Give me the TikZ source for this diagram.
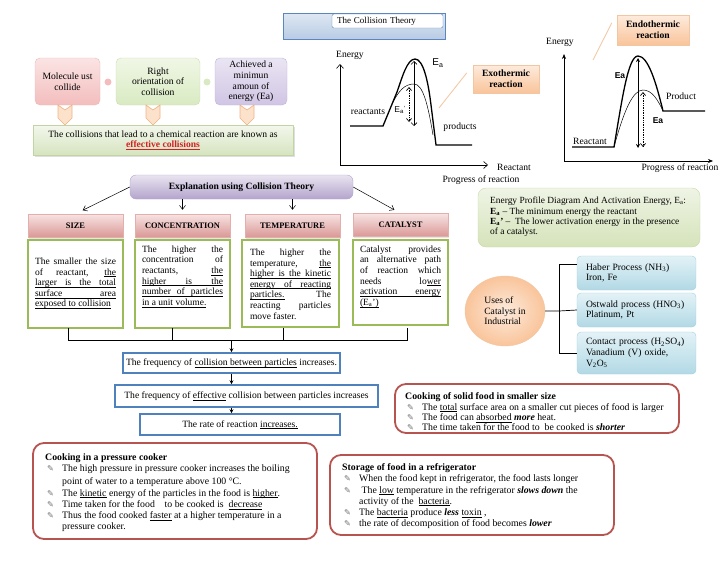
\documentclass[tikz,border=0pt]{standalone}
\usepackage{fontspec}
\setmainfont{Liberation Serif}
\newfontfamily\arialf{Liberation Sans}
\newfontfamily\symf{DejaVu Sans}
\usetikzlibrary{arrows.meta,shapes.geometric,shadows,calc}
\definecolor{pkT}{HTML}{FBE4E4}
\definecolor{pkB}{HTML}{F3BDBD}
\definecolor{pkD}{HTML}{EBB9B9}
\definecolor{grT}{HTML}{F0F7E6}
\definecolor{grB}{HTML}{D9EAC2}
\definecolor{grD}{HTML}{CADDAE}
\definecolor{puT}{HTML}{EAE5F3}
\definecolor{puB}{HTML}{D0C5E4}
\definecolor{puD}{HTML}{C0B3DA}
\definecolor{chF}{HTML}{FCE2CB}
\definecolor{chD}{HTML}{EDB287}
\definecolor{efT}{HTML}{F3F7EC}
\definecolor{efB}{HTML}{D6E4C0}
\definecolor{efD}{HTML}{C2D4A3}
\definecolor{efred}{HTML}{D42020}
\definecolor{blT}{HTML}{DFE8F3}
\definecolor{blB}{HTML}{B8CCE4}
\definecolor{blD}{HTML}{5B86C0}
\definecolor{orT}{HTML}{FDEBDD}
\definecolor{orB}{HTML}{F9C49A}
\definecolor{orD}{HTML}{F2C6A2}
\definecolor{callc}{HTML}{F3C9A6}
\definecolor{exT}{HTML}{E9E4F0}
\definecolor{exB}{HTML}{B3A4CC}
\definecolor{hdT}{HTML}{F7E4E3}
\definecolor{hdB}{HTML}{DA9896}
\definecolor{hdD}{HTML}{E3AEAC}
\definecolor{cbD}{HTML}{9BBB59}
\definecolor{fbD}{HTML}{4F81BD}
\definecolor{rbD}{HTML}{B85450}
\definecolor{pgT}{HTML}{EFF4E5}
\definecolor{pgB}{HTML}{D5E3BA}
\definecolor{pgD}{HTML}{C8D9A6}
\definecolor{ubT}{HTML}{E3F2F7}
\definecolor{ubB}{HTML}{B2D9E5}
\definecolor{ubD}{HTML}{A3D0DE}
\definecolor{bulc}{HTML}{707070}
\newcommand\ft{\fontsize{9.6}{10.6}\selectfont}
\newcommand\bul{{\symf\fontsize{8.2}{8}\selectfont\textcolor{bulc}{✎}}}
\newcommand\bla{\makebox[17pt][l]{\hspace{2pt}\bul}}
\newcommand\ind{\hspace*{17pt}}
\newcommand\bi[1]{\textbf{\textit{#1}}}
\newcommand\ul[1]{\setbox0\hbox{#1}\rlap{\rule[-1.7pt]{\wd0}{0.45pt}}\box0\relax}
\newcommand\us{\leaders\hrule height -1.25pt depth 1.7pt\hskip\fontdimen2\font plus\fontdimen3\font minus\fontdimen4\font\relax}
\begin{document}
\begin{tikzpicture}[x=1pt,y=-1pt,font=\ft,
  tbox/.style={rounded corners=5pt,inner sep=1pt,align=center,minimum height=47pt},
  chev/.style={fill=chF,draw=chD,line width=0.6pt},
  callout/.style={draw=callc,line width=0.9pt},
  orbox/.style={top color=orT,bottom color=orB,draw=orD,align=center,inner sep=0pt,drop shadow={opacity=0.25,shadow xshift=1pt,shadow yshift=-1pt},font=\ft\bfseries},
  hdr/.style={top color=hdT,bottom color=hdB,draw=hdD,minimum width=95pt,minimum height=23pt,inner sep=0pt,font=\fontsize{8.4}{10}\selectfont\bfseries,drop shadow={opacity=0.2,shadow xshift=1pt,shadow yshift=-1.5pt}},
  cbox/.style={draw=cbD,line width=1.6pt,fill=white,inner sep=0pt,minimum width=95pt},
  ctext/.style={text width=81pt,align=justify,inner sep=0pt,font=\fontsize{9.5}{10.6}\selectfont},
  fbox/.style={draw=fbD,line width=1.6pt,fill=white,inner sep=0pt},
  rbox/.style={draw=rbD,line width=1.8pt,rounded corners=11pt,minimum width=284pt,inner sep=0pt},
  rtext/.style={align=left,inner sep=0pt,anchor=north west,font=\fontsize{9.8}{11.2}\selectfont},
  ubox/.style={top color=ubT,bottom color=ubB,draw=ubD,rounded corners=4pt,minimum width=119pt,text width=101pt,inner xsep=9pt,inner ysep=0pt,align=left},
  gline/.style={line width=0.6pt},
  boldc/.style={line width=1.3pt},
  thinc/.style={line width=0.5pt},
  lab/.style={inner sep=0pt},
  conn/.style={line width=0.5pt,-{Straight Barb[length=4pt,width=6pt]}},
  flow/.style={line width=0.6pt,-{Stealth[length=4pt,width=4pt]}}
]
\useasboundingbox (0,0) rectangle (728,563);

% ---------- top-left: conditions ----------
\node[tbox,top color=pkT,bottom color=pkB,draw=pkD,minimum width=65pt] (m1) at (67.5,81.5) {Molecule ust\\collide};
\node[tbox,top color=grT,bottom color=grB,draw=grD,minimum width=84pt] (m2) at (158,81.5) {Right\\orientation of\\collision};
\node[tbox,top color=puT,bottom color=puB,draw=puD,minimum width=72pt] (m3) at (251,81.5) {Achieved a\\minimun\\amoun of\\energy (Ea)};
\node[circle,fill=pkB,minimum size=7pt,inner sep=0pt] (d1) at (108,82) {};
\node[circle,fill=grB,minimum size=7pt,inner sep=0pt] (d2) at (207,82) {};
\foreach \x in {65,153,247}{
  \draw[chev] (\x-7,105) -- (\x,110) -- (\x+7,105) -- (\x+7,118) -- (\x,125) -- (\x-7,118) -- cycle;
}
\node[top color=efT,bottom color=efB,draw=efD,minimum width=260pt,minimum height=30pt,align=center,inner sep=0pt,drop shadow={opacity=0.25,shadow xshift=1.5pt,shadow yshift=-1.5pt}] (eff) at (163,140)
  {The collisions that lead to a chemical reaction are known as\\{\color{efred}\bfseries\ul{effective collisions}}};

% ---------- title ----------
\node[draw=blD,top color=blT,bottom color=blB,minimum width=162pt,minimum height=26pt,inner sep=0pt] (tback) at (364,26) {};
\node[draw=blD,fill=white,rounded corners=2pt,minimum height=14pt,text width=101pt,inner xsep=5pt,inner ysep=0pt,align=left,font=\fontsize{9}{10}\selectfont] (title) at (387.5,21) {The Collision Theory};

% ---------- exothermic graph ----------
\coordinate (o1) at (340,165);
\coordinate (y1) at (340,64);
\coordinate (x1) at (488,165);
\draw[gline,-{Straight Barb[length=4pt,width=7pt]}] (o1) -- (y1);
\draw[gline,-{Straight Barb[length=4pt,width=7pt]}] (o1) -- (x1);
\node[lab] (en1) at (350,55) {Energy};
\node[lab] (rx1) at (514,167) {Reactant};
\node[lab] (pr1) at (481,180) {Progress of reaction};
\draw[boldc] (350,126) -- (383,126) -- (397,92) .. controls (402,78) and (407,59) .. (415,59) .. controls (423,59) and (428,80) .. (431,105) -- (436,145) -- (472,145);
\draw[thinc] (392,104) .. controls (399,90) and (405,84) .. (414,84) .. controls (423,84) and (428,105) .. (433,135);
\draw[line width=0.6pt,{Straight Barb[length=3pt,width=6pt]}-{Straight Barb[length=3pt,width=6pt]}] (414,61) -- (414,126);
\draw[line width=0.7pt,densely dotted,{Straight Barb[length=3pt,width=5pt]}-{Straight Barb[length=3pt,width=5pt]}] (409,87) -- (409,122);
\node[lab,font=\arialf\fontsize{10}{11}\selectfont] (ea1) at (438,63) {E\textsubscript{a}};
\node[lab,font=\arialf\fontsize{8.5}{10}\selectfont] (ea1p) at (400,110) {E\textsubscript{a}\textsuperscript{'}};
\node[lab] (rc1) at (368,112) {reactants};
\node[lab] (pd1) at (460,127) {products};
\node[orbox,minimum width=66pt,minimum height=28pt] (exo) at (506,79) {Exothermic\\reaction};
\coordinate (c1) at (439,108);
\draw[callout] (c1) -- ($(exo.north west)+(-6,8)$);

% ---------- endothermic graph ----------
\coordinate (o2) at (564,161);
\coordinate (y2) at (564,54);
\coordinate (x2) at (713,161);
\draw[gline,-{Stealth[length=5pt,width=4pt]}] (o2) -- (y2);
\draw[gline,-{Stealth[length=5pt,width=4pt]}] (o2) -- (x2);
\node[lab] (en2) at (560,42) {Energy};
\node[lab] (pr2) at (680,168) {Progress of reaction};
\node[lab] (rc2) at (590,141) {Reactant};
\node[lab] (pd2) at (681,96) {Product};
\draw[boldc] (572,147) -- (614,147) .. controls (622,100) and (628,56) .. (638,56) .. controls (648,56) and (656,82) .. (663,111) -- (705,111);
\draw[thinc] (614,147) .. controls (624,110) and (633,90) .. (643,90) .. controls (652,90) and (658,100) .. (663,111);
\draw[line width=0.8pt,{Stealth[length=4pt,width=4pt]}-{Stealth[length=4pt,width=4pt]}] (638,58) -- (638,148);
\draw[line width=0.7pt,densely dotted,{Straight Barb[length=3pt,width=5pt]}-{Straight Barb[length=3pt,width=5pt]}] (643,92) -- (643,147);
\node[lab,font=\arialf\fontsize{8.5}{10}\selectfont\bfseries] (ea2) at (620,76) {Ea};
\node[lab,font=\arialf\fontsize{8.5}{10}\selectfont\bfseries] (ea2p) at (658,121) {Ea};
\node[orbox,minimum width=72pt,minimum height=30pt] (endo) at (653,30) {Endothermic\\reaction};
\coordinate (c2) at (593,60);
\draw[callout] (c2) -- ($(endo.north west)+(-5,8)$);

% ---------- explanation ----------
\node[top color=exT,bottom color=exB,draw=exB,rounded corners=6pt,minimum width=223pt,minimum height=24pt,inner sep=0pt,font=\ft\bfseries] (explain) at (241.5,187) {Explanation using Collision Theory};
\node[hdr] (sizeh) at (75.5,225.5) {SIZE};
\node[hdr] (conch) at (182.5,225.5) {CONCENTRATION};
\node[hdr] (temph) at (292.5,225.5) {TEMPERATURE};
\node[hdr] (cath) at (400.5,225) {CATALYST};
\draw[conn,shorten >=8pt] (explain.west) -- (sizeh.north);
\draw[conn,shorten >=4pt] (explain.south -| conch.north) -- (conch.north);
\draw[conn,shorten >=4pt] (explain.south -| temph.north) -- (temph.north);
\draw[conn,shorten >=7pt] (explain.east) -- (cath.north);

\node[cbox,minimum height=88pt] (sizeb) at (75.5,284) {};
\node[cbox,minimum height=88pt] (concb) at (182.5,284) {};
\node[cbox,minimum width=97pt,minimum height=87pt] (tempb) at (290.5,283.5) {};
\node[cbox,minimum height=85pt] (catb) at (400.5,282.5) {};
\node[ctext] (sizet) at (75.5,283.5) {The smaller the size\linebreak of reactant, \ul{the}\linebreak \ul{larger}\us\ul{is}\us\ul{the}\us\ul{total}\linebreak \ul{surface}\us\ul{area}\linebreak \ul{exposed}\us\ul{to}\us\ul{collision}};
\node[ctext,anchor=north] (conct) at (182.5,245.5) {The higher the\linebreak concentration of\linebreak reactants, \ul{the}\linebreak \ul{higher}\us\ul{is}\us\ul{the}\linebreak \ul{number}\us\ul{of}\us\ul{particles}\linebreak \ul{in}\us\ul{a}\us\ul{unit}\us\ul{volume.}};
\node[ctext] (tempt) at (290.5,284) {The higher the\linebreak temperature, \ul{the}\linebreak \ul{higher}\us\ul{is}\us\ul{the}\us\ul{kinetic}\linebreak \ul{energy}\us\ul{of}\us\ul{reacting}\linebreak \ul{particles.} The\linebreak reacting particles\linebreak move faster.};
\node[ctext,anchor=north] (catt) at (400.5,245.5) {Catalyst provides\linebreak an alternative path\linebreak of reaction which\linebreak needs lo\ul{wer}\linebreak \ul{activation}\us\ul{energy}\linebreak \ul{(E\textsubscript{a}')}};

% ---------- bracket and flow ----------
\coordinate (j) at (231.5,340);
\draw[line width=0.6pt] (68,328) -- (68,340) -- (407,340) -- (407,328);
\draw[line width=0.6pt] (172,328) -- (172,340);
\draw[line width=0.6pt] (283,328) -- (283,340);
\node[fbox,minimum width=217pt,minimum height=20pt] (f1) at (231.5,363) {The frequency of \ul{collision between particles} increases.};
\node[fbox,minimum width=263pt,minimum height=22pt] (f2) at (246.5,396) {The frequency of \ul{effective} collision between particles increases};
\node[fbox,minimum width=200pt,minimum height=21pt] (f3) at (240,424.5) {The rate of reaction \ul{increases.}};
\draw[flow] (j) -- (f1.north);
\draw[flow] (f1.south) -- (f1.south |- f2.north);
\draw[flow] (f1.south |- f2.south) -- (f1.south |- f3.north);

% ---------- red boxes ----------
\node[rbox,minimum height=49pt] (solid) at (537,408.5) {};
\node[rtext,font=\fontsize{9.8}{10.4}\selectfont] (solidt) at (405,392.5) {\textbf{Cooking of solid food in smaller size}\\
\bla The \ul{total} surface area on a smaller cut pieces of food is larger\\
\bla The food can \ul{absorbed} \bi{more} heat.\\
\bla The time taken for the food to\ \ be cooked is \bi{shorter}};

\node[rbox,minimum height=96pt] (cooker) at (175,491) {};
\node[rtext] (cookert) at (45,453.5) {\textbf{Cooking in a pressure cooker}\\
\bla The high pressure in pressure cooker increases the boiling\\[2pt]
\ind point of water to a temperature above 100 °C.\\
\bla The \ul{kinetic} energy of the particles in the food is \ul{higher}.\\
\bla Time taken for the food\quad to be cooked is \ \ul{decrease}\\
\bla Thus the food cooked \ul{faster} at a higher temperature in a\\
\ind pressure cooker.};

\node[rbox,minimum height=80pt] (store) at (472,495) {};
\node[rtext] (storet) at (342,463.5) {\textbf{Storage of food in a refrigerator}\\
\bla When the food kept in refrigerator, the food lasts longer\\
\bla\ The \ul{low} temperature in the refrigerator \bi{slows down} the\\
\ind activity of the \ \ul{bacteria}.\\
\bla The \ul{bacteria} produce \bi{less} \ul{toxin} ,\\
\bla the rate of decomposition of food becomes \bi{lower}};

% ---------- right side ----------
\node[top color=pgT,bottom color=pgB,draw=pgD,rounded corners=8pt,minimum width=222pt,minimum height=59pt,inner sep=0pt] (prof) at (589,217.5) {};
\node[rtext,font=\fontsize{9.4}{10.3}\selectfont] (proft) at (490,197) {Energy Profile Diagram And Activation Energy, E\textsubscript{a}:\\
\textbf{E\textsubscript{a}} – The minimum energy the reactant\\
\textbf{E\textsubscript{a}'} – \ The lower activation energy in the presence\\
of a catalyst.};

\node[ubox,minimum height=34pt] (haber) at (636.5,273) {Haber Process (NH\textsubscript{3})\\Iron, Fe};
\node[ubox,minimum height=34pt] (ostw) at (636.5,310) {Ostwald process (HNO\textsubscript{3})\\Platinum, Pt};
\node[ubox,minimum height=42pt] (cont) at (636.5,353) {Contact process (H\textsubscript{2}SO\textsubscript{4})\\Vanadium (V) oxide,\\V\textsubscript{2}O\textsubscript{5}};
\node[ellipse,inner color=orT,outer color=orB,draw=orD,minimum width=80pt,minimum height=70pt,inner sep=0pt,align=left] (uses) at (505,311) {Uses of\\Catalyst in\\Industrial};
\coordinate (ub) at (559,311);
\draw[line width=0.7pt] (uses.east) -- (ub) -- (ostw.west);
\draw[line width=0.7pt] (haber.west |- 0,264) -- (559,264) -- (559,353) -- (cont.west);
\end{tikzpicture}
\end{document}
